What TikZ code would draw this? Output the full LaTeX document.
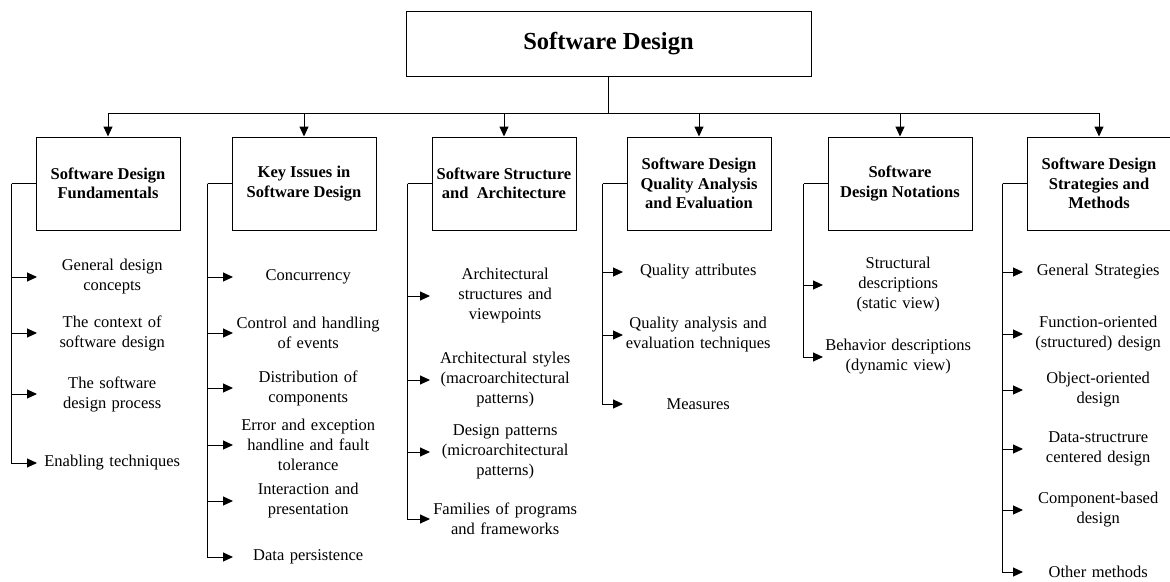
\documentclass[tikz,border=0pt]{standalone}
\usepackage{fontspec}
\setmainfont{Liberation Serif}
\usetikzlibrary{arrows.meta}

\tikzset{
  topic/.style={draw, line width=1pt, minimum width=144pt, minimum height=93pt,
    align=center, inner sep=0pt, font=\fontsize{16.5}{19.5}\selectfont\bfseries},
  leaf/.style={anchor=west, text width=150pt, align=center, inner sep=0pt,
    font=\fontsize{16.5}{20}\selectfont},
  link/.style={line width=1pt},
  arr/.style={link, -{Triangle[width=9pt,length=10pt]}}
}

\begin{document}
\begin{tikzpicture}[x=1pt,y=-1pt]
        \useasboundingbox (0,0) rectangle (1170,581);

        \node[draw, line width=1pt, minimum width=405pt, minimum height=65pt,
          font=\fontsize{24.5}{28}\selectfont\bfseries] (sd) at (608.5,43.5) {Software Design};
        \coordinate (bus) at (608.5,113);

        \node[topic] (fund) at (108,183.5) {Software Design\\Fundamentals};
        \node[topic] (key) at (304,183.5) {Key Issues in\\Software Design};
        \node[topic] (struct) at (504,183.5) {Software Structure\\and\ \ Architecture};
        \node[topic] (qual) at (699,183.5) {Software Design\\Quality Analysis\\and Evaluation};
        \node[topic] (notn) at (900,183.5) {Software\\Design Notations};
        \node[topic] (strat) at (1099,183.5) {Software Design\\Strategies and\\Methods};

        \draw[link] (sd.south) -- (bus);
        \foreach \b in {fund,key,struct,qual,notn,strat}
          \draw[arr] (bus) -| (\b.north);

        \node[leaf] (fundA) at (37,277) {General design\\concepts};
        \node[leaf] (fundB) at (37,333) {The context of\\software design};
        \node[leaf] (fundC) at (37,394) {The software\\design process};
        \node[leaf] (fundD) at (37,463) {Enabling techniques};

        \node[leaf] (keyA) at (233,277) {Concurrency};
        \node[leaf] (keyB) at (233,333) {Control and handling\\of events};
        \node[leaf] (keyC) at (233,388) {Distribution of\\components};
        \node[leaf] (keyD) at (233,445) {Error and exception\\handline and fault\\tolerance};
        \node[leaf] (keyE) at (233,501) {Interaction and\\presentation};
        \node[leaf] (keyF) at (233,557) {Data persistence};

        \node[leaf] (structA) at (430,296) {Architectural\\structures and\\viewpoints};
        \node[leaf] (structB) at (430,380) {Architectural styles\\(macroarchitectural\\patterns)};
        \node[leaf] (structC) at (430,452) {Design patterns\\(microarchitectural\\patterns)};
        \node[leaf] (structD) at (430,519) {Families of programs\\and frameworks};

        \node[leaf] (qualA) at (623,272) {Quality attributes};
        \node[leaf] (qualB) at (623,335) {Quality analysis and\\evaluation techniques};
        \node[leaf] (qualC) at (623,404) {Measures};

        \node[leaf] (notnA) at (823,285) {Structural\\descriptions\\(static view)};
        \node[leaf] (notnB) at (823,357) {Behavior descriptions\\(dynamic view)};

        \node[leaf] (stratA) at (1023,272) {General Strategies};
        \node[leaf] (stratB) at (1023,334) {Function-oriented\\(structured) design};
        \node[leaf] (stratC) at (1023,390) {Object-oriented\\design};
        \node[leaf] (stratD) at (1023,449) {Data-structrure\\centered design};
        \node[leaf] (stratE) at (1023,510) {Component-based\\design};
        \node[leaf] (stratF) at (1023,572) {Other methods};

        \foreach \b in {fund,key,struct,qual,notn,strat}
          \draw[link] (\b.west) -- ++(-24,0) coordinate (\b T);

        \foreach \l in {A,B,C,D}
          \draw[arr] (fundT) |- (fund\l.west);
        \foreach \l in {A,B,C,D,E,F}
          \draw[arr] (keyT) |- (key\l.west);
        \foreach \l in {A,B,C,D}
          \draw[arr] (structT) |- (struct\l.west);
        \foreach \l in {A,B,C}
          \draw[arr] (qualT) |- (qual\l.west);
        \foreach \l in {A,B}
          \draw[arr] (notnT) |- (notn\l.west);
        \foreach \l in {A,B,C,D,E,F}
          \draw[arr] (stratT) |- (strat\l.west);
\end{tikzpicture}
\end{document}
